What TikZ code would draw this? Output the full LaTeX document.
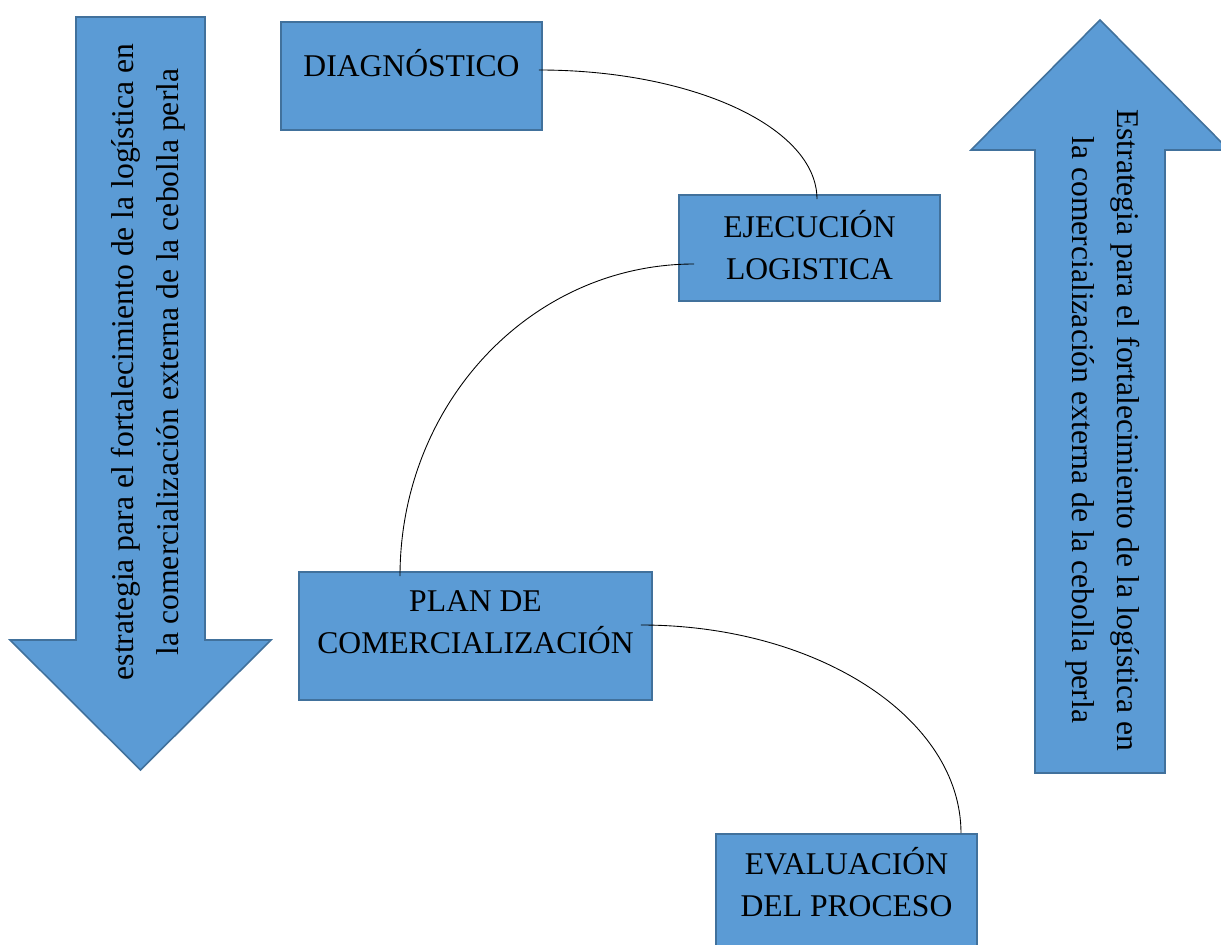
\documentclass[tikz,border=0pt]{standalone}
\usepackage{fontspec}
\setmainfont{Liberation Serif}
\definecolor{boxblue}{HTML}{5B9BD5}
\definecolor{edgeblue}{HTML}{41719C}
\begin{document}
\begin{tikzpicture}[x = 0.02cm, y = -0.02cm,
  box/.style = {draw = edgeblue, line width = 0.9pt, fill = boxblue, inner sep = 0pt},
  boxtext/.style = {anchor = base, align = center, inner sep = 0pt, font = \fontsize{18}{24}\selectfont},
  sidetext/.style = {align = center, inner sep = 0pt, font = \fontsize{18}{25.5}\selectfont},
  link/.style = {line width = 0.5pt}]
\useasboundingbox (0,0) rectangle (1221,945);
\clip (0,0) rectangle (1221,945);

% side arrows
\draw[box] (76,17) -- (205,17) -- (205,640) -- (271,640) -- (140.5,770) -- (10,640) -- (76,640) -- cycle;
\node[sidetext, rotate = 90] (lefttext) at (148,362) {estrategia para el fortalecimiento de la logística en\\la comercialización externa de la cebolla perla};

\draw[box] (1035,773) -- (1035,150) -- (971,150) -- (1100,20) -- (1229,150) -- (1165,150) -- (1165,773) -- cycle;
\node[sidetext, rotate = -90] (righttext) at (1103,430) {Estrategia para el fortalecimiento de la logística en\\la comercialización externa de la cebolla perla};

% boxes (text base = last line)
\node[box, minimum width = 5.22cm, minimum height = 2.16cm] (diag) at (411.5,76) {};
\node[boxtext] (diagtext) at ([yshift = -1.1cm]diag.north) {DIAGNÓSTICO};

\node[box, minimum width = 5.22cm, minimum height = 2.12cm] (ejec) at (809.5,248) {};
\node[boxtext] (ejectext) at ([yshift = -1.7cm]ejec.north) {EJECUCIÓN\\LOGISTICA};

\node[box, minimum width = 7.06cm, minimum height = 2.56cm] (plan) at (475.5,636) {};
\node[boxtext] (plantext) at ([yshift = -1.64cm]plan.north) {PLAN DE\\COMERCIALIZACIÓN};

\node[box, minimum width = 5.22cm, minimum height = 2.52cm] (eval) at (846.5,897) {};
\node[boxtext] (evaltext) at ([yshift = -1.66cm]eval.north) {EVALUACIÓN\\DEL PROCESO};

% links
\draw[link] ([shift = {(-4,-6)}]diag.east) .. controls +(154,0) and +(0,-72) .. ([shift = {(7.5,5)}]ejec.north);
\draw[link] ([shift = {(16,16)}]ejec.west) .. controls +(-163,0) and +(0,-173) .. ([shift = {(-75.5,5)}]plan.north);
\draw[link] ([shift = {(-12,-11)}]plan.east) .. controls +(177,0) and +(0,-115) .. ([shift = {(114.5,0)}]eval.north);

\end{tikzpicture}
\end{document}
